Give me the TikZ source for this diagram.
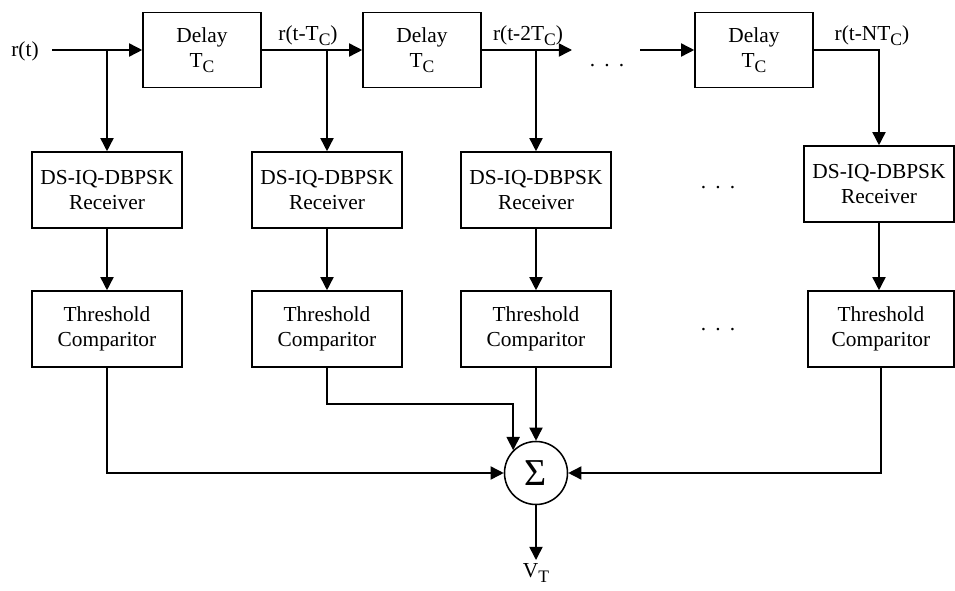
\documentclass[tikz,border=0pt]{standalone}
\usepackage{fontspec}
\setmainfont{Liberation Serif}
\usetikzlibrary{arrows.meta}
\newcommand{\lowsub}[1]{\raisebox{-0.45ex}{\fontsize{12.5}{12.5}\selectfont #1}}
\begin{document}
\begin{tikzpicture}[x=0.025cm,y=-0.025cm,line width=1.1pt,
        >={Triangle[length=3.3mm,width=3.3mm]},
        font=\fontsize{15.2}{17.8}\selectfont,
        delay/.style={draw,align=center,minimum width=2.95cm,minimum height=1.875cm,inner sep=0pt},
        block/.style={draw,align=center,minimum width=3.75cm,minimum height=1.9cm,inner sep=0pt},
        sumnode/.style={draw,circle,minimum size=1.575cm,inner sep=0pt},
        gap/.style={anchor=base}]
\useasboundingbox (0,0) rectangle (955,591);

\node[gap] (rt) at (25,57) {r(t)};
\coordinate (in) at (52,50);
\node[delay] (d1) at (202,50) {Delay\\T\lowsub{C}};
\node[delay] (d2) at (422,50) {Delay\\T\lowsub{C}};
\node[delay] (d3) at (754,50) {Delay\\T\lowsub{C}};
\node[gap] (l1) at (308,41) {r(t-T\lowsub{C})};
\node[gap] (l2) at (528,41) {r(t-2T\lowsub{C})};
\node[gap] (l3) at (872,41) {r(t-NT\lowsub{C})};
\node[gap] (dots1) at (607,67) {.\hspace{6.5pt}.\hspace{6.5pt}.};
\coordinate (e2) at (572,50);
\coordinate (s3) at (640,50);

\node[block] (rx1) at (107,190) {DS-IQ-DBPSK\\Receiver};
\node[block] (rx2) at (327,190) {DS-IQ-DBPSK\\Receiver};
\node[block] (rx3) at (536,190) {DS-IQ-DBPSK\\Receiver};
\node[block] (rx4) at (879,184) {DS-IQ-DBPSK\\Receiver};
\node[gap] (dots2) at (718,189) {.\hspace{6.5pt}.\hspace{6.5pt}.};

\node[block] (th1) at (107,329) {Threshold\\Comparitor};
\node[block] (th2) at (327,329) {Threshold\\Comparitor};
\node[block] (th3) at (536,329) {Threshold\\Comparitor};
\node[block,minimum width=3.65cm] (th4) at (881,329) {Threshold\\Comparitor};
\node[gap] (dots3) at (718,330) {.\hspace{6.5pt}.\hspace{6.5pt}.};

\node[sumnode] (sum) at (536,473) {\fontsize{27}{27}\selectfont Σ};
\node[anchor=north,inner sep=2pt] (vt) at (536,560) {V\lowsub{T}};

\draw[->] (in) -- (d1.west);
\draw[->] (d1.east) -- (d2.west);
\draw[->] (d2.east) -- (e2);
\draw[->] (s3) -- (d3.west);
\draw[->] (rx1 |- in) -- (rx1.north);
\draw[->] (rx2 |- in) -- (rx2.north);
\draw[->] (rx3 |- in) -- (rx3.north);
\draw[->] (d3.east) -| (rx4.north);

\draw[->] (rx1.south) -- (th1.north);
\draw[->] (rx2.south) -- (th2.north);
\draw[->] (rx3.south) -- (th3.north);
\draw[->] (rx4.south) -- (rx4.south |- th4.north);

\draw[->] (th1.south) |- (sum.west);
\draw[->] (th2.south) -- ++(0,36) -| (sum.north west);
\draw[->] (th3.south) -- (sum.north);
\draw[->] (th4.south) |- (sum.east);
\draw[->] (sum.south) -- (vt.north);
\end{tikzpicture}
\end{document}
